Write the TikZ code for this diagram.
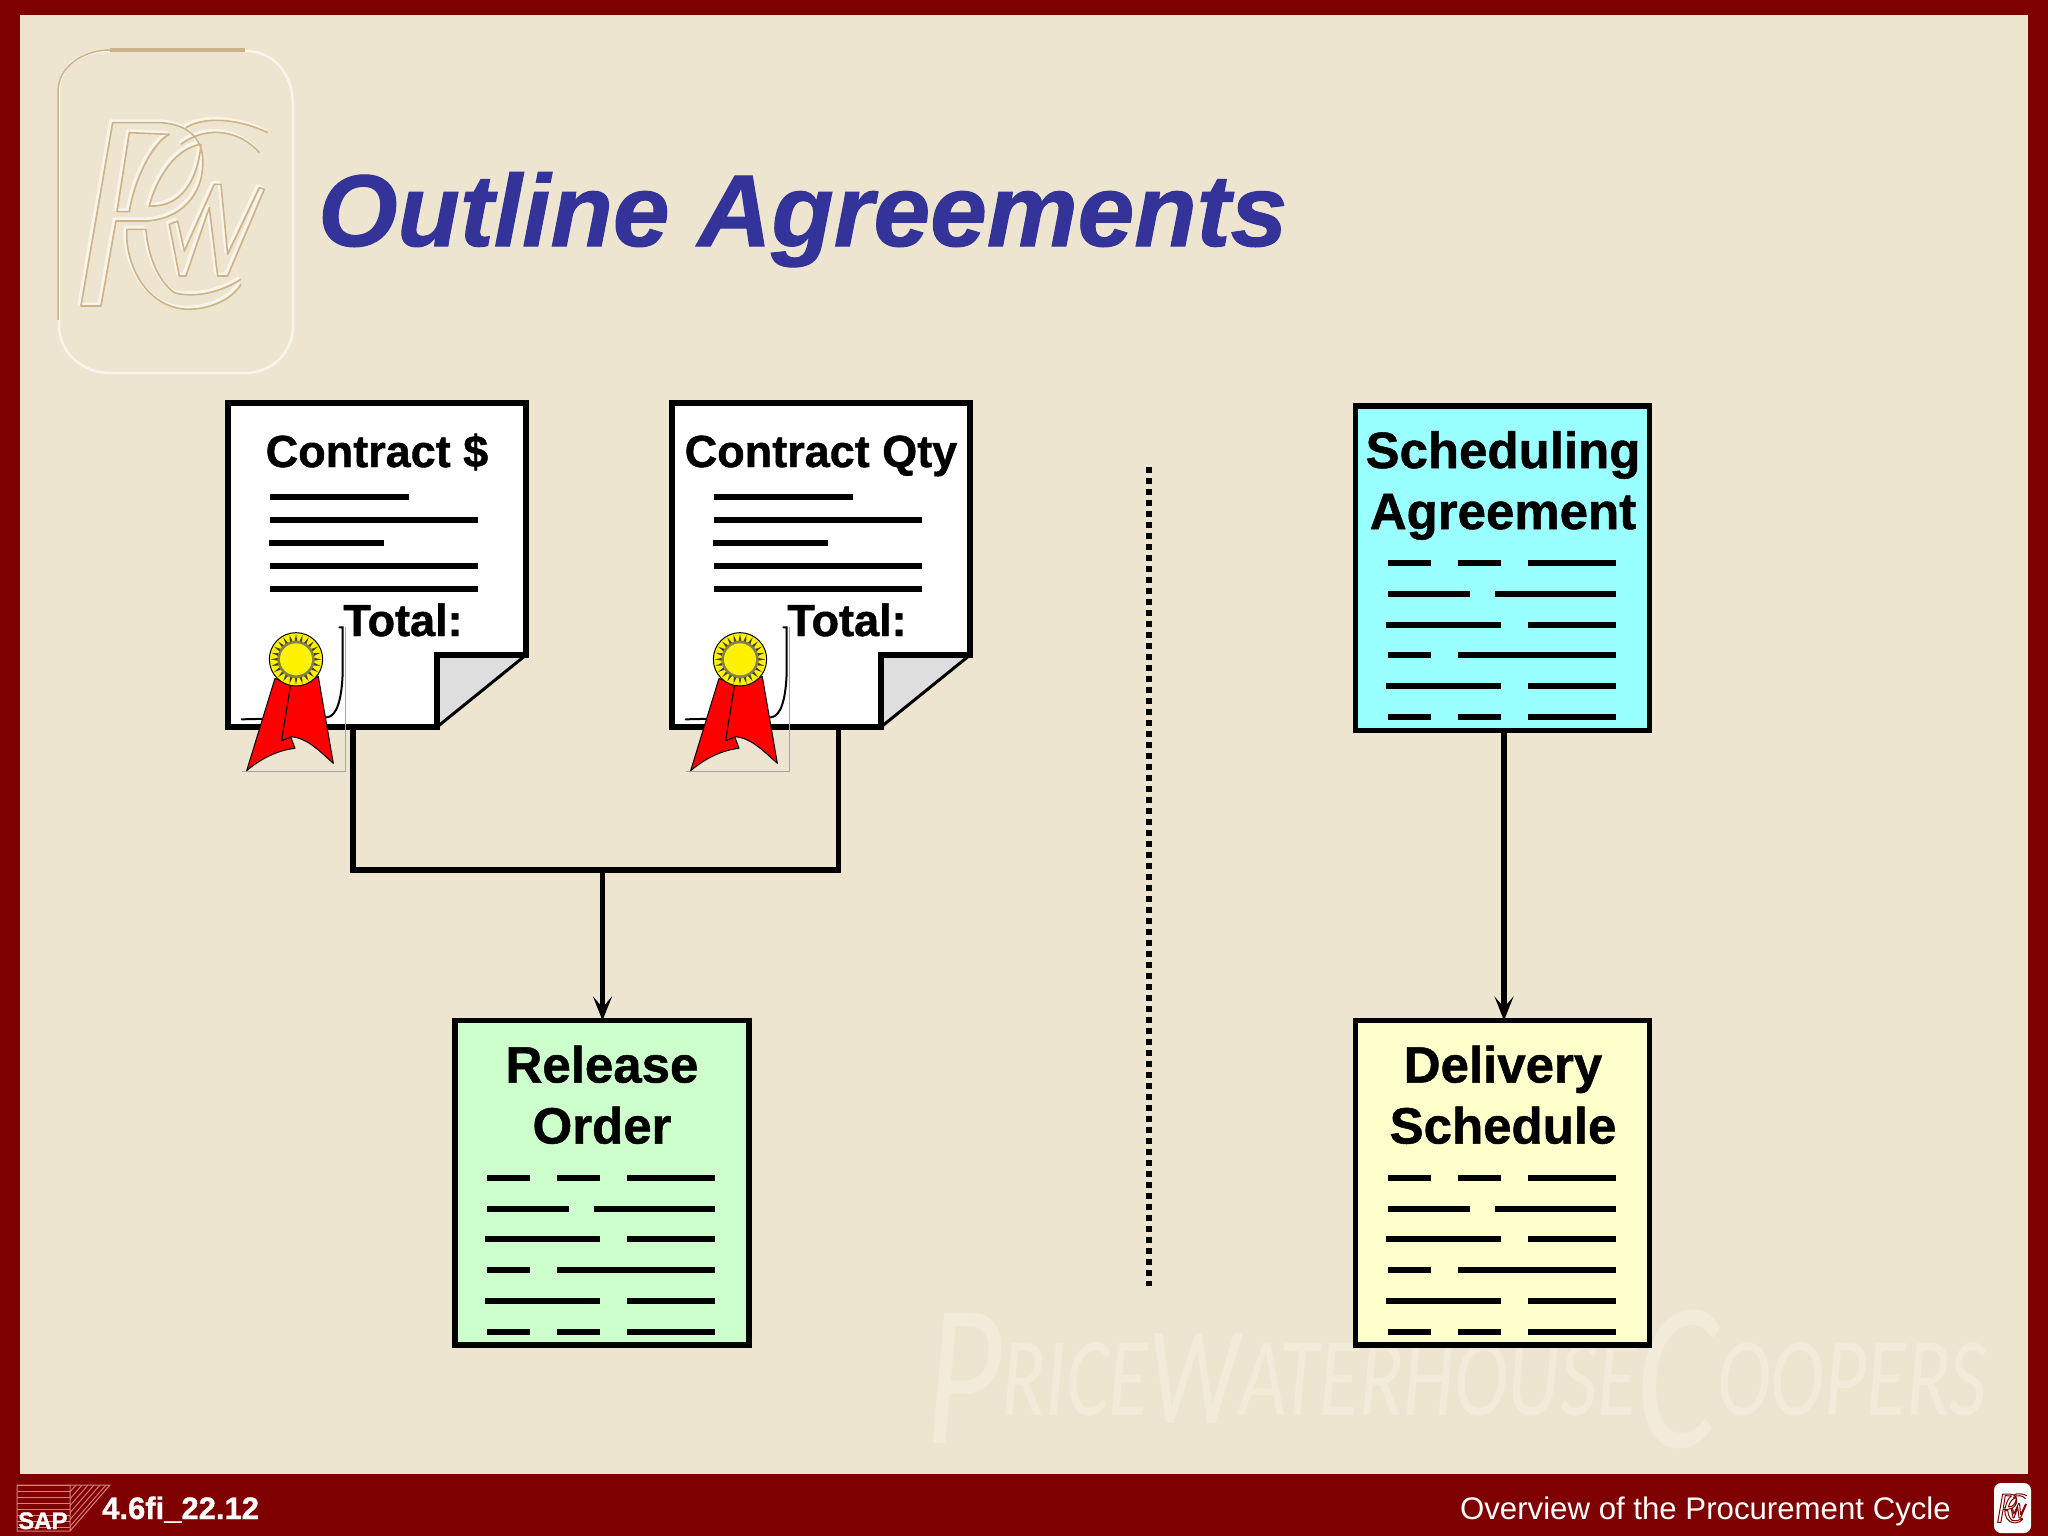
\documentclass[tikz,border=0pt]{standalone}
\usepackage{fontspec}
\setmainfont{Liberation Sans}[BoldFeatures={FakeBold=1},BoldItalicFeatures={FakeBold=1}]
\newfontfamily\wmfont{Carlito}
\usetikzlibrary{arrows.meta,calc}
\definecolor{bgcol}{HTML}{EEE5D0}
\definecolor{maroon}{HTML}{7F0000}
\definecolor{titleblue}{HTML}{333399}
\definecolor{embtan}{HTML}{CDB388}
\definecolor{embwhite}{HTML}{FAF5EB}
\definecolor{wmfill}{HTML}{F3EBD9}
\definecolor{relgreen}{HTML}{CCFFCC}
\definecolor{schedcyan}{HTML}{99FFFF}
\definecolor{delyellow}{HTML}{FFFFCC}
\definecolor{sappink}{HTML}{DC7F7F}
\tikzset{
  x=1pt,y=-1pt,
  docline/.style={line width=5.5pt,line join=miter},
  textrule/.style={line width=6pt},
  conn/.style={line width=5.5pt,line join=miter},
  arrowconn/.style={conn,-{Stealth[length=24pt,width=19pt,inset=11pt]}},
  formbox/.style={draw=black,line width=5.5pt,minimum width=294pt,minimum height=324.5pt,inner sep=0pt,outer sep=0pt,anchor=north west},
  boxtitle/.style={font=\fontsize{51}{61}\selectfont\bfseries,align=center,text=black,anchor=base,inner sep=0pt},
  doctitle/.style={font=\fontsize{45}{50}\selectfont\bfseries,text=black,anchor=base,inner sep=0pt},
}
\newcommand{\pwcmark}{%
  (335,305) -- (240,855) -- (300,855) -- (345,600) -- (440,600) .. controls (560,590) and (612,500) .. (605,410) .. controls (600,350) and (560,310) .. (480,305) -- cycle
  (385,335) -- (348,572) -- (385,572) .. controls (400,480) and (450,370) .. (505,340) -- cycle
  (600,370) .. controls (530,380) and (470,460) .. (445,555) .. controls (540,560) and (590,480) .. (600,370)
  (800,335) .. controls (730,300) and (620,280) .. (555,320)
  (775,395) .. controls (720,330) and (620,310) .. (540,370)
  (435,625) -- (378,625) .. controls (370,720) and (430,860) .. (560,865) .. controls (620,865) and (690,840) .. (720,790)
  (435,625) .. controls (440,700) and (470,780) .. (520,815) .. controls (570,830) and (650,820) .. (720,775)
  (505,610) -- (535,765) -- (555,765) -- (625,560) -- (650,765) -- (680,765) -- (790,505) -- (775,500) -- (680,700) -- (660,490) -- (640,490) -- (550,690) -- (530,600) -- cycle
}
\newcommand{\sealpic}{%
  \draw[line width=.8pt,draw=black!35] (435,740) -- (435,1175) -- (125,1175);
  \draw[line width=2pt,line cap=round] (418,742) -- (428,742) -- (428,880) .. controls (425,960) and (410,1010) .. (380,1012) -- (125,1018);
  \draw[fill=red,line width=1pt,line join=round] (225,895) -- (140,1172) .. controls (190,1130) and (240,1110) .. (285,1105) -- (272,1070) -- (245,1082) -- (272,915) -- cycle;
  \draw[fill=red,line width=1pt,line join=round] (272,915) -- (355,890) -- (400,1150) .. controls (350,1105) and (320,1075) .. (275,1070) -- (245,1082) -- cycle;
  \fill[yellow,draw=black,line width=1pt] (288,838) circle[radius=80];
  \foreach \a in {0,15,...,345}{\fill[black!85!yellow] ($(288,838)+(\a:76)$) -- ($(288,838)+(\a+6:50)$) -- ($(288,838)+(\a-6:50)$) -- cycle;}
  \fill[black!55!yellow] (288,838) circle[radius=56];
  \fill[yellow] (288,838) circle[radius=48];
}
\newcommand{\dashrows}{%
  \foreach \y/\a/\b in {157/33/76,157/103/146,157/173/261,188/33/115,188/140/261,218.5/31/146,218.5/173/261,249/33/76,249/103/261,280/31/146,280/173/261,311/33/76,311/103/146,311/173/261}
    \draw[textrule] (\a,\y) -- (\b,\y);
}
\newcommand{\docbody}[1]{%
  \begin{scope}[shift={(#1,0)}]
    \fill[white] (228,403) -- (526,403) -- (526,655) -- (437,727) -- (228,727) -- cycle;
    \fill[black!13] (437,655) -- (526,655) -- (437,727) -- cycle;
    \draw[line width=3pt] (526,655) -- (437,727);
    \draw[docline] (437,727) -- (228,727) -- (228,403) -- (526,403) -- (526,655) -- (437,655) -- cycle;
    \draw[textrule] (270,497) -- (409,497);
    \draw[textrule] (270,520) -- (478,520);
    \draw[textrule] (269,543) -- (384,543);
    \draw[textrule] (270,566) -- (478,566);
    \draw[textrule] (270,589) -- (478,589);
    \begin{scope}[shift={(200,380)},scale=1/3]
      \sealpic
    \end{scope}
  \end{scope}
}
\begin{document}
\begin{tikzpicture}
\useasboundingbox (0,0) rectangle (2048,1536);
\fill[maroon] (0,0) rectangle (2048,1536);
\fill[bgcol] (20,15) rectangle (2028,1474);

% top-left embossed logo
\draw[embwhite,line width=2.5pt] (59,92) .. controls (59,62) and (85,51) .. (110,51) -- (245,51) .. controls (275,51) and (293,75) .. (293,105) -- (293,325) .. controls (293,355) and (270,373) .. (245,373) -- (110,373) .. controls (85,373) and (59,355) .. (59,325) -- cycle;
\draw[embtan,line width=1.5pt] (58,320) -- (58,92) .. controls (58,65) and (85,50) .. (110,50);
\draw[embtan,line width=3.5pt] (110,50) -- (245,50);
\begin{scope}[shift={(-1,19)},scale=1/3]
  \draw[embwhite,line width=2.8pt,line join=round] \pwcmark;
\end{scope}
\begin{scope}[shift={(1,21)},scale=1/3]
  \draw[embtan,line width=1.6pt,line join=round] \pwcmark;
\end{scope}

% watermark
\node[anchor=base west,inner sep=0pt,text=wmfill,font=\wmfont\itshape,xscale=0.728] (wm) at (925,1415)
  {\raisebox{-28pt}{\fontsize{203}{203}\selectfont P}{\fontsize{112}{112}\selectfont RICE}\raisebox{-8pt}{\fontsize{140}{140}\selectfont W}{\fontsize{112}{112}\selectfont ATERHOUSE}\raisebox{-32pt}{\fontsize{212}{212}\selectfont C}{\fontsize{112}{112}\selectfont OOPERS}};

% title
\node[anchor=base west,inner sep=0pt,text=titleblue,font=\fontsize{102}{110}\selectfont\bfseries\itshape] (title) at (318,246) {Outline Agreements};

% documents
\docbody{0}
\docbody{444}
\node[doctitle] (c1) at (377,467) {Contract \$};
\node[doctitle] (c2) at (821,467) {Contract Qty};
\node[doctitle] (t1) at (403,636) {Total:};
\node[doctitle] (t2) at (847,636) {Total:};
\coordinate (doc1b) at (353,727);
\coordinate (doc2b) at (838.5,727);
\coordinate (j1) at (353,870);
\coordinate (j2) at (838.5,870);
\coordinate (jm) at (602.5,870);

% boxes
\node[formbox,fill=relgreen] (rel) at (455,1020.5) {};
\node[formbox,fill=schedcyan] (sch) at (1355.5,406) {};
\node[formbox,fill=delyellow] (del) at (1355.5,1020.5) {};
\node[boxtitle] (relt) at (602,1143.5) {Release\\Order};
\node[boxtitle] (scht) at (1503,529) {Scheduling\\Agreement};
\node[boxtitle] (delt) at (1503,1143.5) {Delivery\\Schedule};
\begin{scope}[shift={(454,1020.5)}]\dashrows\end{scope}
\begin{scope}[shift={(1355,406)}]\dashrows\end{scope}
\begin{scope}[shift={(1355,1020.5)}]\dashrows\end{scope}

% connectors
\draw[conn] (doc1b) -- (j1) -- (j2) -- (doc2b);
\draw[arrowconn] (jm) -- (jm |- rel.north);
\draw[arrowconn] ($(sch.south)+(1.5,0)$) -- ($(del.north)+(1.5,0)$);

% dotted divider
\coordinate (dtop) at (1149,467);
\coordinate (dbot) at (1149,1286);
\draw[line width=6pt,dash pattern=on 6pt off 5pt] (dtop) -- (dbot);

% footer
\begin{scope}
  \clip (17,1485) rectangle (70,1531);
  \foreach \y in {1485,1491,...,1531} \draw[sappink,line width=.9pt] (17,\y) -- (70,\y);
\end{scope}
\draw[sappink,line width=1pt] (17,1485) -- (110,1485) -- (70,1531) -- (17,1531) -- cycle (70,1485) -- (70,1531);
\begin{scope}
  \clip (70,1485) -- (110,1485) -- (70,1531) -- cycle;
  \foreach \x in {70,76,...,160} \draw[sappink,line width=.9pt] (\x,1485) -- (\x-40,1531);
\end{scope}
\node[anchor=base west,inner sep=0pt,text=white,font=\fontsize{24}{24}\selectfont\bfseries] (sap) at (18,1529) {SAP};
\node[anchor=base west,inner sep=0pt,text=white,font=\fontsize{31}{31}\selectfont\bfseries] (code) at (102,1519) {4.6fi\_22.12};
\node[anchor=base east,inner sep=0pt,text=white,font=\fontsize{31.2}{31}\selectfont] (foot) at (1951,1519) {Overview of the Procurement Cycle};
\fill[white,rounded corners=7pt] (1994,1483) rectangle (2031,1533);
\begin{scope}[shift={(1985.2,1478.4)},xscale=0.052,yscale=0.0515]
  \draw[maroon,line width=1pt,line join=round] \pwcmark;
\end{scope}
\end{tikzpicture}
\end{document}
